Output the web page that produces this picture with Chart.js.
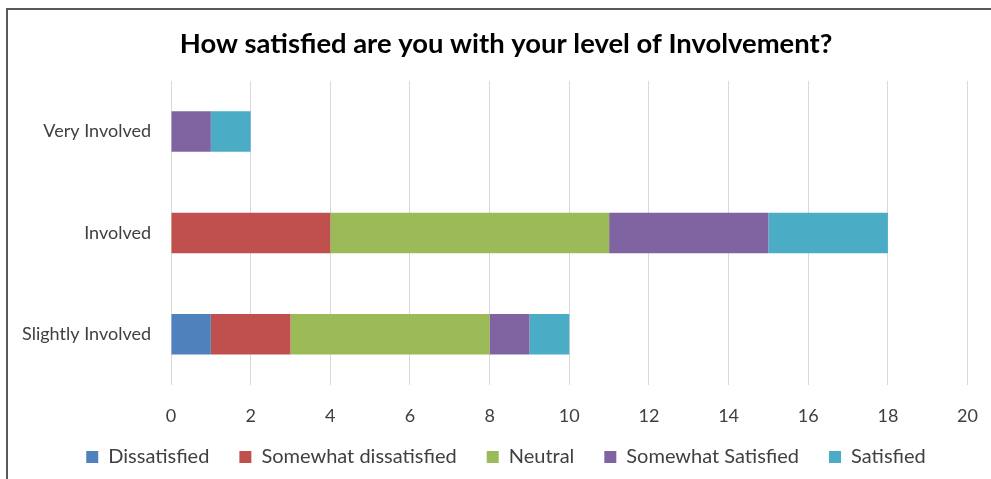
<!DOCTYPE html>
<html>
<head>
<meta charset="utf-8">
<script src="https://cdn.jsdelivr.net/npm/chart.js@4/dist/chart.umd.min.js"></script>
<style>
  html, body { margin: 0; padding: 0; background: #fff; }
  #wrap { position: relative; width: 991px; height: 479px; overflow: hidden; }
  #frame {
    position: absolute; left: 6px; top: 8px; width: 1000px; height: 500px;
    border-left: 2px solid #595959; border-top: 2px solid #595959;
  }
  #chart { position: absolute; left: 0; top: 0; }
</style>
</head>
<body>
<div id="wrap">
  <div id="frame"></div>
  <canvas id="chart" width="998" height="530"></canvas>
</div>
<script>
"use strict";

var categories = ['Very Involved', 'Involved', 'Slightly Involved'];
var seriesNames = ['Dissatisfied', 'Somewhat dissatisfied', 'Neutral', 'Somewhat Satisfied', 'Satisfied'];
var seriesColors = ['#4F81BD', '#C0504D', '#9BBB59', '#8064A2', '#4BACC6'];

var dissatisfied = [0, 0, 1];
var somewhatDissatisfied = [0, 4, 2];
var neutral = [0, 7, 5];
var somewhatSatisfied = [1, 4, 1];
var satisfied = [1, 3, 1];

var seriesValues = [dissatisfied, somewhatDissatisfied, neutral, somewhatSatisfied, satisfied];

var fontFamily = 'Lato, "Open Sans", sans-serif';
var legendTop = 417;
var headerShift = 11;

var datasets = seriesNames.map(function (name, i) {
    return {
        label: name,
        data: seriesValues[i],
        backgroundColor: seriesColors[i],
        borderWidth: 0,
        barPercentage: 0.4,
        categoryPercentage: 1.0
    };
});

// the x axis box is kept tall so its labels aren't clipped; the legend is then
// pulled up under the tick labels, and title + legend nudged a bit to the right
var legendShift = {
    id: 'legendShift',
    afterLayout: function (chart) {
        var legend = chart.legend;
        if (legend) {
            var h = legend.height;
            legend.top = legendTop;
            legend.bottom = legendTop + h;
            legend.left += headerShift;
            legend.right += headerShift;
        }
        var title = chart.titleBlock;
        if (title) {
            title.left += headerShift;
            title.right += headerShift;
        }
    }
};

new Chart(document.getElementById('chart'), {
    type: 'bar',
    data: { labels: categories, datasets: datasets },
    plugins: [legendShift],
    options: {
        indexAxis: 'y',
        responsive: false,
        animation: false,
        layout: { padding: { left: 8, right: 16, top: 28, bottom: 0 } },
        scales: {
            x: {
                stacked: true,
                min: 0,
                max: 20,
                ticks: { stepSize: 2, color: '#404040', font: { family: fontFamily, size: 18 }, padding: 20 },
                grid: { color: '#d9d9d9', drawTicks: false },
                border: { display: false },
                afterFit: function (scale) { scale.height = 85; }
            },
            y: {
                stacked: true,
                ticks: { color: '#404040', font: { family: fontFamily, size: 18 }, padding: 20 },
                grid: { display: false, drawTicks: false },
                border: { display: false },
                afterFit: function (scale) { scale.width = 163; }
            }
        },
        plugins: {
            title: {
                display: true,
                text: 'How satisfied are you with your level of Involvement?',
                color: '#000',
                font: { family: fontFamily, size: 27.4, weight: 'bold' },
                padding: { top: 0, bottom: 20 }
            },
            legend: {
                position: 'bottom',
                labels: {
                    color: '#404040',
                    font: { family: fontFamily, size: 20 },
                    boxWidth: 12,
                    boxHeight: 12,
                    padding: 30
                }
            },
            tooltip: { enabled: false }
        }
    }
});
</script>
</body>
</html>
